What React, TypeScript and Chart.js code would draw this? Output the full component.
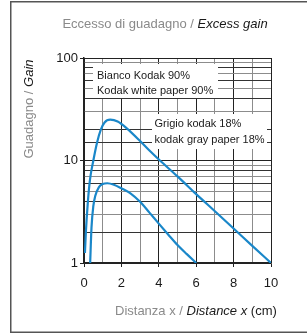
import React, { useEffect, useRef } from "react";
import { Chart, registerables } from "chart.js";

Chart.register(...registerables);

const whiteX = [0.05, 0.1, 0.2, 0.32, 0.5, 0.7, 0.9, 1.1, 1.4, 1.8, 2.3, 3, 3.5, 4.06, 5, 6, 7, 8, 9, 10];
const whiteY = [1.25, 2, 3.8, 6.5, 10, 15, 20, 23.5, 25, 24, 20.5, 15.5, 12.5, 10, 7, 4.7, 3.2, 2.17, 1.47, 1];
const grayX = [0.33, 0.4, 0.5, 0.6, 0.8, 1.0, 1.25, 1.6, 2, 2.5, 3, 3.5, 4, 4.5, 5, 5.5, 6];
const grayY = [1, 2.2, 3.6, 4.5, 5.5, 5.9, 6.0, 5.8, 5.35, 4.75, 3.95, 3.1, 2.42, 1.9, 1.5, 1.22, 1];

const xTicks = [0, 2, 4, 6, 8, 10];
const yTicks = [1, 10, 100];

const titleGray = "Eccesso di guadagno / ";
const titleEn = "Excess gain";
const xTitleGray = "Distanza x / ";
const xTitleEn = "Distance x";
const xTitleUnit = " (cm)";
const yTitleGray = "Guadagno / ";
const yTitleEn = "Gain";
const label1 = ["Bianco Kodak 90%", "Kodak white paper 90%"];
const label2 = ["Grigio kodak 18%", "kodak gray paper 18%"];

const FONT = "'Liberation Sans', Arial, sans-serif";
const GRAY = "#8a8a8a";
const DARK = "#1a1a1a";
const BLUE = "#1a87c9";

function drawMixed(ctx: CanvasRenderingContext2D, parts: { t: string; italic: boolean; color: string }[], x: number, y: number, align: "left" | "center") {
  let total = 0;
  const widths = parts.map((p) => {
    ctx.font = `${p.italic ? "italic " : ""}13px ${FONT}`;
    const w = ctx.measureText(p.t).width;
    total += w;
    return w;
  });
  let cx = align === "center" ? x - total / 2 : x;
  parts.forEach((p, i) => {
    ctx.font = `${p.italic ? "italic " : ""}13px ${FONT}`;
    ctx.fillStyle = p.color;
    ctx.textAlign = "left";
    ctx.textBaseline = "middle";
    ctx.fillText(p.t, cx, y);
    cx += widths[i];
  });
}

const decorPlugin = {
  id: "decor",
  beforeDatasetsDraw(chart: any) {
    const ctx: CanvasRenderingContext2D = chart.ctx;
    ctx.save();
    ctx.fillStyle = "#ffffff";
    ctx.fillRect(93, 64, 125, 34);
    ctx.fillRect(152, 114, 115, 35);
    ctx.font = `11px ${FONT}`;
    ctx.fillStyle = DARK;
    ctx.textAlign = "left";
    ctx.textBaseline = "middle";
    ctx.fillText(label1[0], 97, 75.5);
    ctx.fillText(label1[1], 97, 91);
    ctx.fillText(label2[0], 154.5, 124);
    ctx.fillText(label2[1], 154.5, 140);
    ctx.restore();
  },
  afterDraw(chart: any) {
    const ctx: CanvasRenderingContext2D = chart.ctx;
    ctx.save();
    ctx.strokeStyle = "#555";
    ctx.lineWidth = 1.5;
    ctx.strokeRect(10.75, 1.75, 320, 330.5);
    drawMixed(ctx, [
      { t: titleGray, italic: false, color: GRAY },
      { t: titleEn, italic: true, color: DARK },
    ], 165, 24, "center");
    drawMixed(ctx, [
      { t: xTitleGray, italic: false, color: GRAY },
      { t: xTitleEn, italic: true, color: DARK },
      { t: xTitleUnit, italic: false, color: DARK },
    ], 115, 311, "left");
    ctx.translate(29.5, 109);
    ctx.rotate(-Math.PI / 2);
    drawMixed(ctx, [
      { t: yTitleGray, italic: false, color: GRAY },
      { t: yTitleEn, italic: true, color: DARK },
    ], 0, 0, "center");
    ctx.restore();
  },
};

export default function App() {
  const ref = useRef<HTMLCanvasElement | null>(null);
  useEffect(() => {
    if (!ref.current) return;
    const chart = new Chart(ref.current, {
      type: "line",
      data: {
        datasets: [
          {
            data: whiteX.map((x, i) => ({ x, y: whiteY[i] })),
            borderColor: BLUE,
            borderWidth: 2.2,
            pointRadius: 0,
            cubicInterpolationMode: "monotone",
          },
          {
            data: grayX.map((x, i) => ({ x, y: grayY[i] })),
            borderColor: BLUE,
            borderWidth: 2.2,
            pointRadius: 0,
            cubicInterpolationMode: "monotone",
          },
        ],
      },
      options: {
        animation: false,
        responsive: false,
        devicePixelRatio: 1,
        layout: { padding: { left: 0, right: 36, top: 58, bottom: 0 } },
        plugins: { legend: { display: false }, tooltip: { enabled: false }, title: { display: false } },
        scales: {
          x: {
            type: "linear",
            min: 0,
            max: 10,
            afterFit: (s: any) => { s.height = 71; },
            ticks: {
              stepSize: 1,
              autoSkip: false,
              maxRotation: 0,
              padding: 9,
              color: DARK,
              font: { size: 13, family: FONT },
              callback: (v: any) => (xTicks.includes(Number(v)) ? String(v) : ""),
            },
            grid: {
              color: (c: any) => (c.tick && c.tick.value % 2 === 0 ? "#222" : "#8c8c8c"),
              tickColor: (c: any) => (c.tick && c.tick.value % 2 === 0 ? "#222" : "rgba(0,0,0,0)"),
              tickLength: 4,
              lineWidth: 1,
            },
            border: { display: true, color: "#222", width: 1.5 },
          },
          y: {
            type: "logarithmic",
            min: 1,
            max: 100,
            afterFit: (s: any) => { s.width = 84; },
            ticks: {
              autoSkip: false,
              padding: 2,
              color: DARK,
              font: { size: 13, family: FONT },
              callback: (v: any) => (yTicks.includes(Number(v)) ? String(v) : ""),
            },
            grid: {
              color: (c: any) => {
                const v = c.tick ? c.tick.value : 1;
                if (yTicks.includes(v)) return "#222";
                const m = Math.round(v / Math.pow(10, Math.floor(Math.log10(v) + 1e-9)));
                return m % 2 === 0 ? "#333" : "#8c8c8c";
              },
              tickColor: (c: any) => (c.tick && yTicks.includes(c.tick.value) ? "#222" : "rgba(0,0,0,0)"),
              tickLength: 4,
              lineWidth: 1,
            },
            border: { display: true, color: "#222", width: 1.5 },
          },
        },
      },
      plugins: [decorPlugin],
    } as any);
    return () => chart.destroy();
  }, []);
  return (
    <div style={{ position: "absolute", left: 0, top: 0, width: 307, height: 334, background: "#fff" }}>
      <canvas ref={ref} width={307} height={334} style={{ display: "block" }} />
    </div>
  );
}
